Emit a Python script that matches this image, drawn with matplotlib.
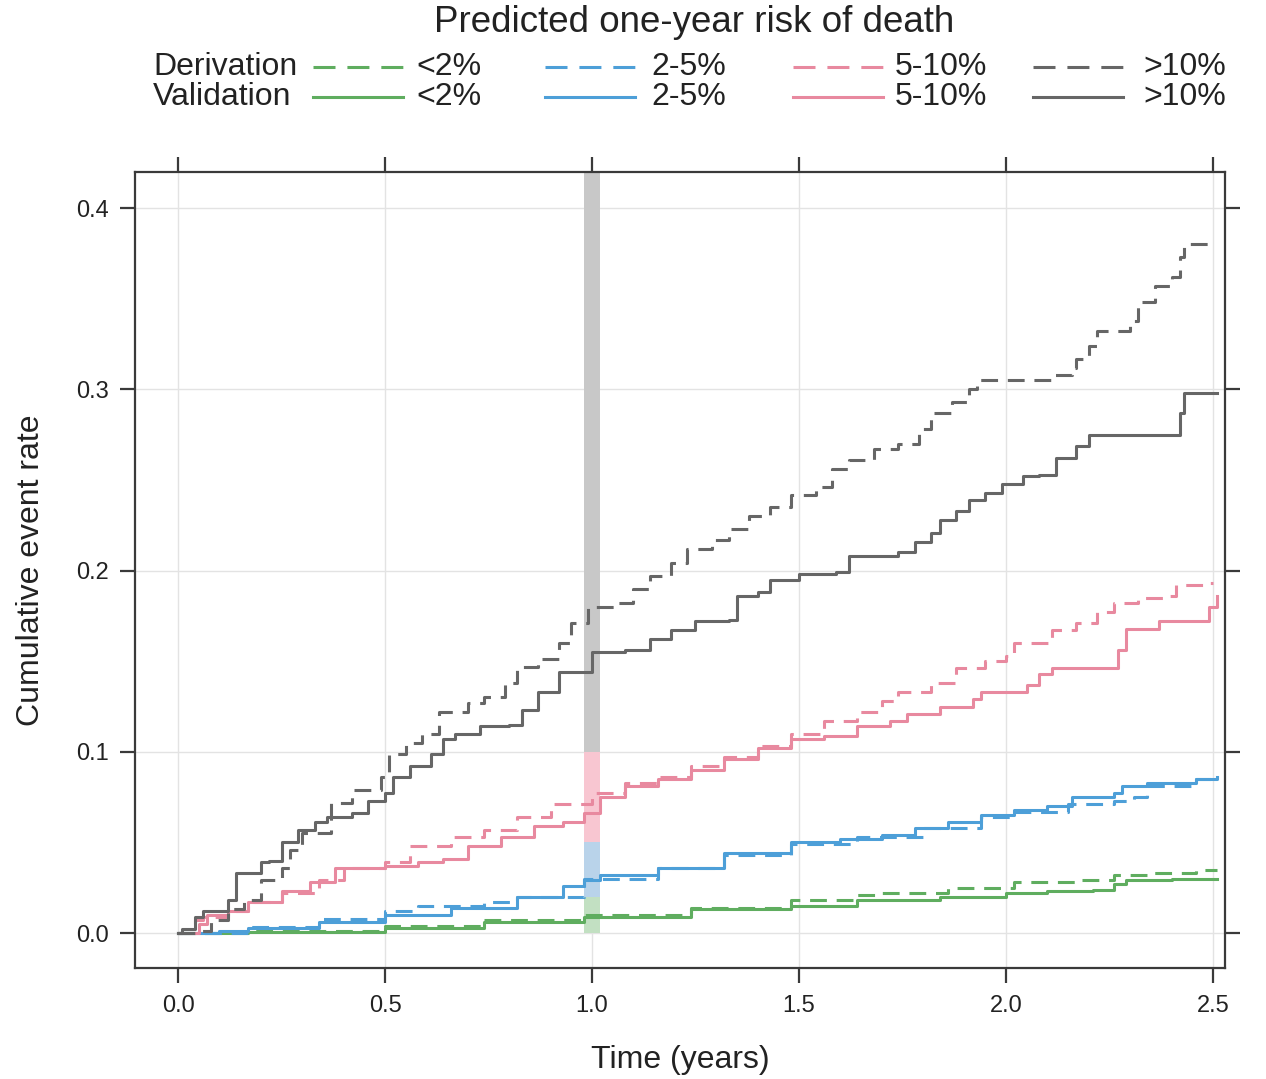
import matplotlib
matplotlib.use('Agg')
import matplotlib.pyplot as plt
from matplotlib.lines import Line2D

plt.rcParams['font.family'] = ['Liberation Sans', 'DejaVu Sans']

# Cumulative event rate curves (time in years, rate)
der_lt2_t = [0, 0.17, 0.50, 0.74, 0.98, 1.24, 1.48, 1.64, 1.70, 1.86, 2.02, 2.18, 2.26, 2.34, 2.46, 2.51]
der_lt2_v = [0, 0.001, 0.004, 0.007, 0.010, 0.014, 0.018, 0.021, 0.022, 0.025, 0.028, 0.029, 0.032, 0.033, 0.035, 0.035]
val_lt2_t = [0, 0.17, 0.50, 0.74, 0.98, 1.24, 1.48, 1.64, 1.84, 2.00, 2.10, 2.21, 2.26, 2.29, 2.40, 2.51]
val_lt2_v = [0, 0.0005, 0.003, 0.006, 0.009, 0.013, 0.015, 0.018, 0.020, 0.022, 0.023, 0.024, 0.027, 0.029, 0.030, 0.030]

der_2_5_t = [0, 0.17, 0.34, 0.50, 0.58, 0.74, 0.82, 0.98, 1.16, 1.32, 1.48, 1.64, 1.80, 1.94, 2.02, 2.15, 2.26, 2.31, 2.34, 2.42, 2.46, 2.51]
der_2_5_v = [0, 0.0035, 0.008, 0.012, 0.015, 0.017, 0.020, 0.030, 0.036, 0.043, 0.049, 0.053, 0.058, 0.064, 0.067, 0.071, 0.073, 0.075, 0.081, 0.081, 0.085, 0.085]
val_2_5_t = [0, 0.10, 0.17, 0.34, 0.50, 0.66, 0.82, 0.93, 0.98, 1.02, 1.16, 1.32, 1.48, 1.60, 1.70, 1.78, 1.86, 1.94, 2.02, 2.10, 2.16, 2.26, 2.28, 2.34, 2.46, 2.51]
val_2_5_v = [0, 0.001, 0.003, 0.006, 0.010, 0.014, 0.020, 0.026, 0.029, 0.032, 0.036, 0.044, 0.050, 0.052, 0.054, 0.058, 0.061, 0.065, 0.068, 0.070, 0.075, 0.077, 0.081, 0.083, 0.085, 0.086]

der_5_10_t = [0, 0.04, 0.06, 0.12, 0.17, 0.25, 0.34, 0.40, 0.50, 0.56, 0.66, 0.74, 0.82, 0.90, 1.00, 1.08, 1.16, 1.24, 1.32, 1.40, 1.48, 1.56, 1.64, 1.70, 1.74, 1.82, 1.88, 1.95, 2.00, 2.02, 2.11, 2.17, 2.22, 2.26, 2.32, 2.38, 2.41, 2.49, 2.50]
der_5_10_v = [0, 0.007, 0.009, 0.012, 0.017, 0.022, 0.029, 0.036, 0.039, 0.048, 0.053, 0.057, 0.064, 0.071, 0.077, 0.083, 0.086, 0.092, 0.097, 0.103, 0.110, 0.117, 0.122, 0.128, 0.133, 0.138, 0.146, 0.150, 0.153, 0.160, 0.167, 0.171, 0.177, 0.182, 0.185, 0.186, 0.192, 0.193, 0.193]
val_5_10_t = [0, 0.05, 0.07, 0.12, 0.17, 0.25, 0.32, 0.38, 0.50, 0.58, 0.64, 0.70, 0.78, 0.86, 0.93, 0.98, 1.02, 1.08, 1.16, 1.24, 1.32, 1.40, 1.48, 1.56, 1.64, 1.72, 1.76, 1.84, 1.92, 1.94, 2.05, 2.08, 2.11, 2.27, 2.29, 2.37, 2.49, 2.51]
val_5_10_v = [0, 0.005, 0.010, 0.012, 0.017, 0.023, 0.028, 0.036, 0.037, 0.039, 0.041, 0.048, 0.053, 0.059, 0.061, 0.066, 0.075, 0.081, 0.085, 0.090, 0.096, 0.102, 0.107, 0.109, 0.114, 0.117, 0.121, 0.125, 0.129, 0.133, 0.137, 0.143, 0.146, 0.156, 0.168, 0.172, 0.180, 0.186]

der_gt10_t = [0, 0.05, 0.08, 0.12, 0.16, 0.20, 0.25, 0.27, 0.30, 0.37, 0.42, 0.49, 0.51, 0.55, 0.59, 0.63, 0.70, 0.74, 0.79, 0.82, 0.87, 0.92, 0.95, 0.99, 1.06, 1.10, 1.14, 1.19, 1.23, 1.29, 1.33, 1.38, 1.43, 1.48, 1.54, 1.58, 1.62, 1.68, 1.74, 1.79, 1.82, 1.87, 1.91, 1.93, 2.11, 2.16, 2.17, 2.20, 2.22, 2.30, 2.32, 2.36, 2.40, 2.42, 2.43, 2.50]
der_gt10_v = [0, 0.001, 0.007, 0.013, 0.018, 0.029, 0.036, 0.046, 0.055, 0.072, 0.079, 0.086, 0.099, 0.105, 0.110, 0.122, 0.127, 0.130, 0.138, 0.147, 0.151, 0.160, 0.171, 0.180, 0.182, 0.190, 0.197, 0.204, 0.212, 0.217, 0.223, 0.230, 0.235, 0.242, 0.246, 0.256, 0.261, 0.267, 0.270, 0.278, 0.287, 0.293, 0.300, 0.305, 0.308, 0.312, 0.317, 0.324, 0.332, 0.338, 0.348, 0.357, 0.362, 0.373, 0.380, 0.380]
val_gt10_t = [0, 0.01, 0.04, 0.06, 0.12, 0.14, 0.20, 0.22, 0.25, 0.29, 0.33, 0.36, 0.42, 0.46, 0.50, 0.52, 0.56, 0.61, 0.64, 0.67, 0.73, 0.80, 0.83, 0.87, 0.92, 1.00, 1.08, 1.14, 1.19, 1.25, 1.33, 1.35, 1.40, 1.43, 1.50, 1.59, 1.62, 1.74, 1.78, 1.82, 1.84, 1.88, 1.91, 1.95, 1.99, 2.04, 2.08, 2.12, 2.17, 2.20, 2.42, 2.43, 2.51]
val_gt10_v = [0, 0.002, 0.009, 0.012, 0.018, 0.033, 0.039, 0.040, 0.050, 0.057, 0.061, 0.064, 0.066, 0.073, 0.077, 0.086, 0.092, 0.099, 0.107, 0.110, 0.114, 0.115, 0.123, 0.133, 0.144, 0.155, 0.156, 0.162, 0.167, 0.172, 0.173, 0.186, 0.188, 0.195, 0.198, 0.199, 0.208, 0.210, 0.216, 0.221, 0.228, 0.233, 0.239, 0.243, 0.248, 0.252, 0.253, 0.262, 0.269, 0.275, 0.287, 0.298, 0.298]

groups = ['<2%', '2-5%', '5-10%', '>10%']
line_colors = ['#5fad5f', '#4d9fd8', '#e8899f', '#666666']
band_colors = ['#c2e0c2', '#b9d3ea', '#f8c6d1', '#c8c8c8']
band_edges = [0, 0.02, 0.05, 0.10, 0.42]  # predicted risk cut points at 1 year

derivation = [(der_lt2_t, der_lt2_v), (der_2_5_t, der_2_5_v), (der_5_10_t, der_5_10_v), (der_gt10_t, der_gt10_v)]
validation = [(val_lt2_t, val_lt2_v), (val_2_5_t, val_2_5_v), (val_5_10_t, val_5_10_v), (val_gt10_t, val_gt10_v)]

fig = plt.figure(figsize=(12.66, 10.79), dpi=100)
ax = fig.add_axes([0.1066, 0.1029, 0.8610, 0.7377])

lw = 2.2
dash = (5.5, 3.2)

# predicted risk band at 1 year
for i in range(4):
    ax.bar(1.0, band_edges[i + 1] - band_edges[i], bottom=band_edges[i], width=0.04,
           color=band_colors[i], linewidth=0, zorder=1)

for i in range(4):
    t, v = derivation[i]
    ax.plot(t, v, drawstyle='steps-post', color=line_colors[i], lw=lw, dashes=dash, zorder=3)
    t, v = validation[i]
    ax.plot(t, v, drawstyle='steps-post', color=line_colors[i], lw=lw, zorder=3)

ax.set_xlim(-0.104, 2.529)
ax.set_ylim(-0.0193, 0.42)
ax.set_xticks([0.0, 0.5, 1.0, 1.5, 2.0, 2.5])
ax.set_yticks([0.0, 0.1, 0.2, 0.3, 0.4])
ax.set_xticklabels(['0.0', '0.5', '1.0', '1.5', '2.0', '2.5'])
ax.set_yticklabels(['0.0', '0.1', '0.2', '0.3', '0.4'])
ax.grid(True, color='#e3e3e3', lw=1.0, zorder=0)
ax.set_axisbelow(True)
for s in ax.spines.values():
    s.set_color('#3a3a3a')
    s.set_linewidth(1.6)
ax.tick_params(direction='out', length=10.5, width=1.6, color='#3a3a3a',
               top=True, right=True, labelsize=17, labelcolor='#222222')
ax.tick_params(axis='y', pad=8)
ax.tick_params(axis='x', pad=9)
ax.set_xlabel('Time (years)', fontsize=23, color='#222222', labelpad=20)
ax.set_ylabel('Cumulative event rate', fontsize=23, color='#222222', labelpad=22)

# legend drawn in pixel coordinates of the figure
lg = fig.add_axes([0, 0, 1, 1])
lg.set_xlim(0, 1266)
lg.set_ylim(1079, 0)
lg.axis('off')
lg.text(694, 23, 'Predicted one-year risk of death', fontsize=26.5, ha='center', va='center', color='#222222')
lg.text(153, 67, 'Derivation', fontsize=23, ha='left', va='center', color='#222222')
lg.text(153, 97, 'Validation', fontsize=23, ha='left', va='center', color='#222222')
line_x0 = [313, 545, 793, 1033]
text_x0 = [416, 651, 895, 1143]
for i in range(4):
    lg.add_line(Line2D([line_x0[i], line_x0[i] + 90], [67, 67], color=line_colors[i], lw=lw, dashes=(7.2, 3.9)))
    lg.add_line(Line2D([line_x0[i], line_x0[i] + 90], [97, 97], color=line_colors[i], lw=lw))
    lg.text(text_x0[i], 67, groups[i], fontsize=23, ha='left', va='center', color='#222222')
    lg.text(text_x0[i], 97, groups[i], fontsize=23, ha='left', va='center', color='#222222')

fig.savefig('out.png', dpi=100)
